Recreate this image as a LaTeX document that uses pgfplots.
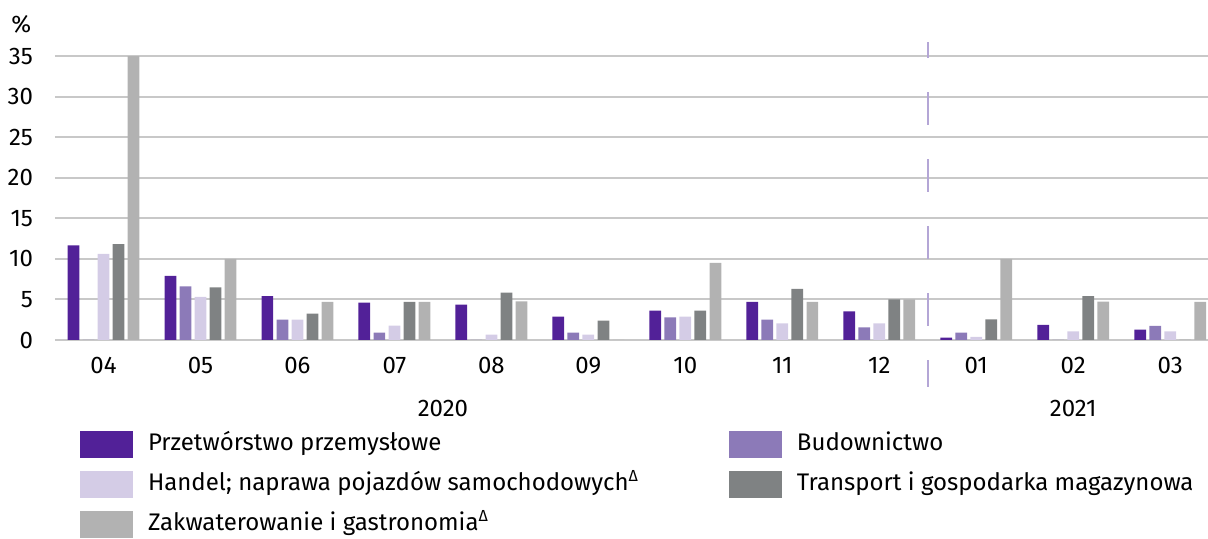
\documentclass[border=0pt]{standalone}
\usepackage{fontspec}
\setmainfont{Fira Sans}
\usepackage{pgfplots}
\pgfplotsset{compat=1.18}
\definecolor{cprz}{RGB}{82,33,152}
\definecolor{cbud}{RGB}{140,122,184}
\definecolor{chan}{RGB}{212,204,230}
\definecolor{ctra}{RGB}{127,130,131}
\definecolor{czak}{RGB}{178,178,178}
\definecolor{cgrid}{RGB}{200,200,200}
\definecolor{cdash}{RGB}{180,166,214}

\newcommand{\lfont}{\fontsize{12}{14}\selectfont}

\begin{document}
\begin{tikzpicture}[x=1pt,y=1pt]
  \useasboundingbox (0,0) rectangle (604,269.5);
  \node[anchor=west,font=\lfont,inner sep=0pt] at (5.5,257.5) {\%};
  \begin{axis}[
      at={(27.5pt,99.5pt)}, anchor=south west,
      scale only axis,
      width=576.5pt, height=142pt,
      xmin=-0.5, xmax=11.39,
      ymin=0, ymax=35,
      ytick={0,5,...,35},
      xtick={0,...,11},
      xticklabels={04,05,06,07,08,09,10,11,12,01,02,03},
      ymajorgrids,
      grid style={draw=cgrid, line width=1pt},
      axis line style={draw=none},
      tick style={draw=none},
      ticklabel style={font=\lfont},
      /pgf/number format/assume math mode=true,
      yticklabel style={xshift=-7.5pt},
      xticklabel style={yshift=-5pt},
      clip=false,
      legend columns=2,
      legend cell align=left,
      legend image code/.code={\path[#1,draw=none] (0pt,-6.7pt) rectangle (26.5pt,6.7pt);},
      legend style={draw=none, fill=none, inner sep=0pt, outer sep=0pt,
        at={(0.0217,-0.3187)}, anchor=north west, font=\lfont,
        nodes={inner sep=1pt, text height=9pt, text depth=3pt},
        row sep=6pt,
        /tikz/every odd column/.style={column sep=6.5pt},
        /tikz/every even column/.style={column sep=44pt}},
    ]
    \addplot[ybar, bar width=0.121, bar shift=-0.31, fill=cprz, draw=none] coordinates {
      (0,11.65) (1,7.9) (2,5.4) (3,4.6) (4,4.36) (5,2.88)
      (6,3.62) (7,4.7) (8,3.53) (9,0.28) (10,1.85) (11,1.27)};
    \addlegendentry{Przetwórstwo przemysłowe}
    \addplot[ybar, bar width=0.121, bar shift=-0.155, fill=cbud, draw=none] coordinates {
      (0,0) (1,6.6) (2,2.5) (3,0.9) (4,0) (5,0.9)
      (6,2.8) (7,2.5) (8,1.56) (9,0.9) (10,0) (11,1.73)};
    \addlegendentry{Budownictwo}
    \addplot[ybar, bar width=0.121, bar shift=0, fill=chan, draw=none] coordinates {
      (0,10.6) (1,5.3) (2,2.5) (3,1.77) (4,0.65) (5,0.65)
      (6,2.88) (7,2.05) (8,2.05) (9,0.4) (10,1.07) (11,1.07)};
    \addlegendentry{Handel; naprawa pojazdów samochodowych\textsuperscript{\fontsize{8}{8}\selectfont Δ}}
    \addplot[ybar, bar width=0.121, bar shift=0.155, fill=ctra, draw=none] coordinates {
      (0,11.8) (1,6.5) (2,3.25) (3,4.7) (4,5.84) (5,2.38)
      (6,3.62) (7,6.3) (8,5.0) (9,2.55) (10,5.4) (11,0)};
    \addlegendentry{Transport i gospodarka magazynowa}
    \addplot[ybar, bar width=0.121, bar shift=0.31, fill=czak, draw=none] coordinates {
      (0,35) (1,10.0) (2,4.7) (3,4.7) (4,4.77) (5,0)
      (6,9.5) (7,4.7) (8,5.0) (9,10.0) (10,4.73) (11,4.7)};
    \addlegendentry{Zakwaterowanie i gastronomia\textsuperscript{\fontsize{8}{8}\selectfont Δ}}
    \addplot[forget plot, draw=cdash, line width=1pt,
      dash pattern=on 16.5pt off 17pt, dash phase=8.5pt]
      coordinates {(8.5,36.7) (8.5,-5.8)};
    \node[font=\lfont] at (axis cs:3.5,0) [yshift=-34pt] {2020};
    \node[font=\lfont] at (axis cs:10,0) [yshift=-34pt] {2021};
  \end{axis}
\end{tikzpicture}
\end{document}
